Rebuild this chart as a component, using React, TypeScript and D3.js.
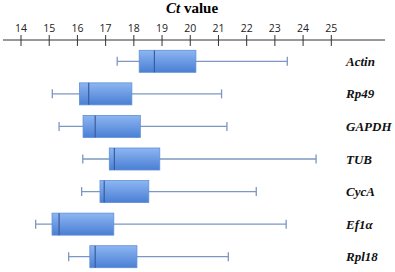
import React from "react";
import * as d3 from "d3";

const genes = ["Actin", "Rp49", "GAPDH", "TUB", "CycA", "Ef1α", "Rpl18"];
const minVals = [17.41, 15.11, 15.35, 16.19, 16.15, 14.52, 15.69];
const q1Vals = [18.19, 16.07, 16.2, 17.13, 16.8, 15.1, 16.44];
const medVals = [18.73, 16.4, 16.63, 17.31, 16.95, 15.35, 16.63];
const q3Vals = [20.2, 17.93, 18.23, 18.92, 18.53, 17.29, 18.11];
const maxVals = [23.44, 21.11, 21.3, 24.46, 22.34, 23.4, 21.35];
const tickValues = [14, 15, 16, 17, 18, 19, 20, 21, 22, 23, 24, 25];

const W = 395;
const H = 272;
const SERIF = "'Liberation Serif', 'Times New Roman', serif";
const SANS = "'Open Sans', 'Liberation Sans', sans-serif";

export default function App() {
  const x = d3.scaleLinear().domain([14, 25]).range([21, 331.3]);
  const y = d3.scalePoint().domain(genes).range([61.3, 256.7]);
  const axisY = 40;
  const boxH = 22;
  const capH = 9;
  return (
    <svg
      width={W}
      height={H}
      style={{ position: "absolute", left: 0, top: 0, background: "#fff" }}
    >
      <defs>
        <linearGradient id="boxGrad" x1="0" y1="0" x2="0" y2="1">
          <stop offset="0%" stopColor="#8db6f2" />
          <stop offset="100%" stopColor="#4a7fd4" />
        </linearGradient>
      </defs>
      <text
        x={192}
        y={13}
        textAnchor="middle"
        style={{ fontFamily: SERIF, fontWeight: "bold", fontSize: "15px" }}
        fill="#000"
      >
        <tspan style={{ fontStyle: "italic" }}>Ct</tspan> value
      </text>
      <line x1={3} x2={385} y1={axisY} y2={axisY} stroke="#333" strokeWidth={1} />
      {tickValues.map((t) => (
        <g key={t}>
          <line x1={x(t)} x2={x(t)} y1={axisY - 5} y2={axisY + 6} stroke="#333" strokeWidth={1} />
          <text
            x={x(t)}
            y={axisY - 8}
            textAnchor="middle"
            style={{ fontFamily: SANS, fontSize: "10.5px" }}
            fill="#222"
          >
            {t}
          </text>
        </g>
      ))}
      {genes.map((g, i) => {
        const cy = y(g) as number;
        return (
          <g key={g}>
            <line x1={x(minVals[i])} x2={x(maxVals[i])} y1={cy} y2={cy} stroke="#7d97c2" strokeWidth={1.3} />
            <line x1={x(minVals[i])} x2={x(minVals[i])} y1={cy - capH / 2} y2={cy + capH / 2} stroke="#7d97c2" strokeWidth={1.3} />
            <line x1={x(maxVals[i])} x2={x(maxVals[i])} y1={cy - capH / 2} y2={cy + capH / 2} stroke="#7d97c2" strokeWidth={1.3} />
            <rect
              x={x(q1Vals[i])}
              y={cy - boxH / 2}
              width={x(q3Vals[i]) - x(q1Vals[i])}
              height={boxH}
              fill="url(#boxGrad)"
              stroke="#5f8fd8"
              strokeWidth={0.8}
            />
            <line x1={x(medVals[i])} x2={x(medVals[i])} y1={cy - boxH / 2} y2={cy + boxH / 2} stroke="#3a5c9e" strokeWidth={1.2} />
            <text
              x={346}
              y={cy + 4.5}
              style={{ fontFamily: SERIF, fontWeight: "bold", fontStyle: "italic", fontSize: "13px" }}
              fill="#111"
            >
              {g}
            </text>
          </g>
        );
      })}
    </svg>
  );
}
